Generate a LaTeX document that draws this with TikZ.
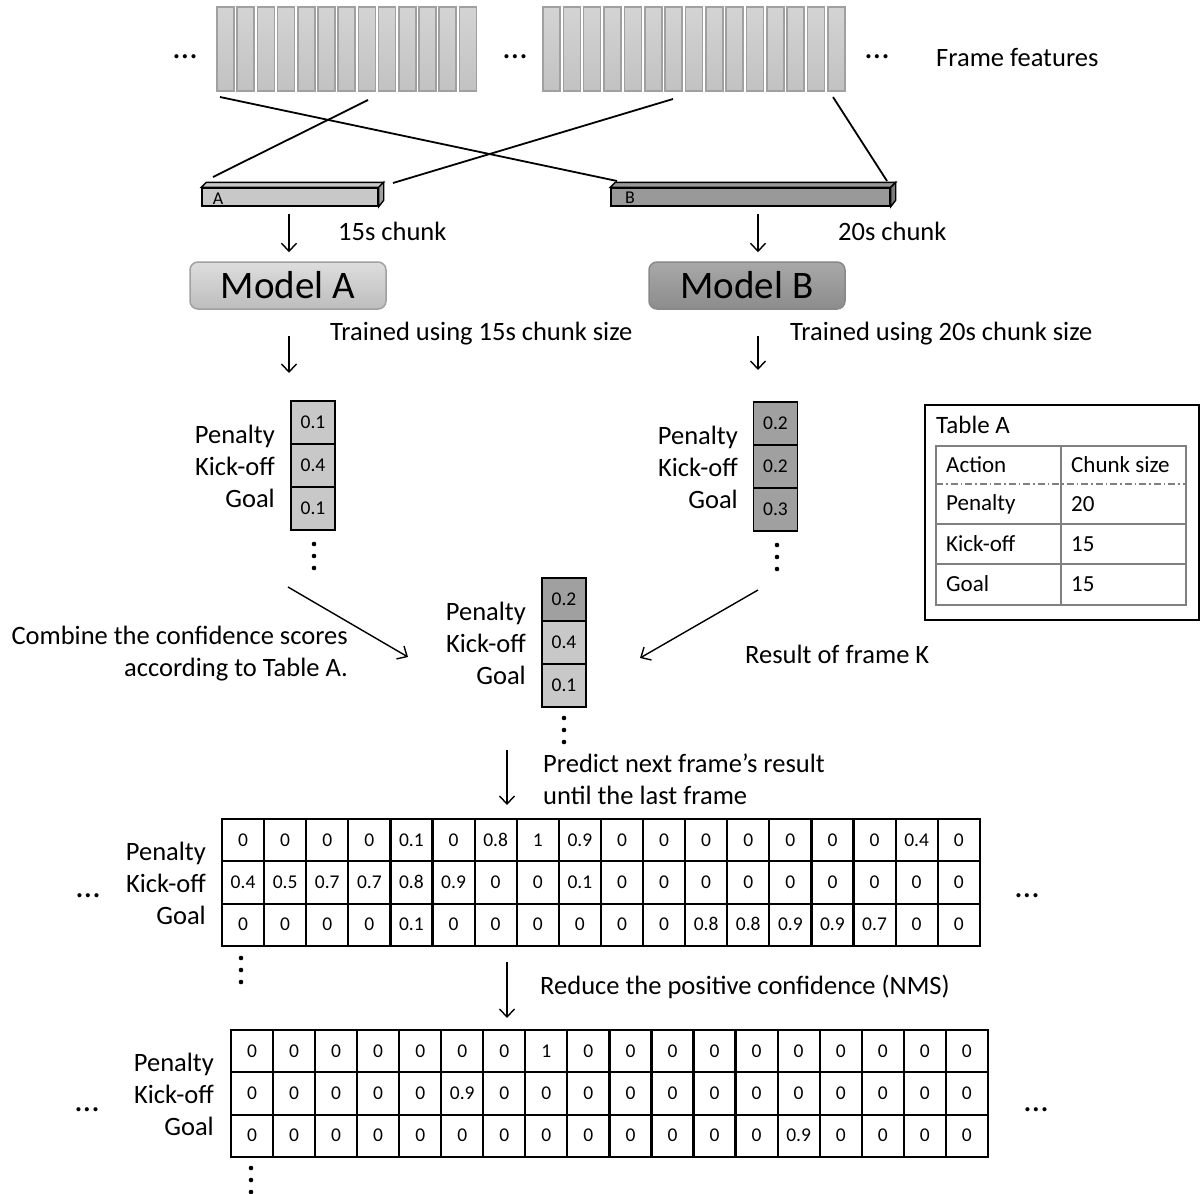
\documentclass[tikz,border=0pt]{standalone}
\usepackage{fontspec}
\setmainfont{Carlito}
\usetikzlibrary{arrows.meta,calc}
\definecolor{barfill}{HTML}{CCCCCC}
\definecolor{barline}{HTML}{A0A0A0}
\definecolor{lightg}{HTML}{C8C8C8}
\definecolor{darkg}{HTML}{A0A0A0}
\definecolor{chunkB}{HTML}{999999}
\definecolor{tblline}{HTML}{808080}
\begin{document}
\begin{tikzpicture}[x=1pt,y=-1pt,
 framebar/.style={rectangle,draw=barline,top color=white!83!black,bottom color=white!76!black,line width=1.5pt,minimum width=17pt,minimum height=84pt,inner sep=0pt},
 txt/.style={font=\fontsize{26.5}{32}\selectfont,inner sep=0pt},
 tbltxt/.style={font=\fontsize{23}{28}\selectfont,inner sep=0pt,anchor=west},
 hdots/.style={font=\fontsize{34}{34}\selectfont,inner sep=0pt,anchor=base},
 chunkbar/.style={rectangle,draw=black,line width=1.4pt,minimum height=18pt,inner sep=0pt},
 modelbox/.style={rectangle,rounded corners=8pt,draw=#1,line width=1.5pt,minimum width=196pt,minimum height=47pt,font=\fontsize{39}{39}\selectfont},
 scell/.style={rectangle,draw=black,line width=1.5pt,minimum width=44pt,minimum height=43pt,inner sep=0pt,font=\fontsize{19.5}{19.5}\selectfont,text height=12pt,text depth=0pt},
 gcell/.style={rectangle,draw=black,line width=2.2pt,minimum width=42.1pt,minimum height=42.3pt,inner sep=0pt,font=\fontsize{19.5}{19.5}\selectfont,fill=white,text height=12pt,text depth=0pt},
 arr/.style={-{Straight Barb[length=8pt,width=15pt]},line width=1.4pt},
 conn/.style={line width=1.8pt}
]
\useasboundingbox (0,0) rectangle (1203,1194);
\fill[white] (0,0) rectangle (1203,1194);

% frame features
\foreach \i in {0,...,12} \node[framebar] (fa\i) at ({225.5+\i*20.2},49) {};
\foreach \i in {0,...,14} \node[framebar] (fb\i) at ({551.5+\i*20.35},49) {};
\node[hdots] (dt1) at (185,58) {…};
\node[hdots] (dt2) at (515,58) {…};
\node[hdots] (dt3) at (877,58) {…};
\node[txt,anchor=west] (ff) at (936,58) {Frame features};

% chunk bars
\node[chunkbar,fill=lightg,minimum width=176pt] (chA) at (290,197) {};
\draw[line width=1.4pt,fill=lightg] (chA.north west) -- ++(5,-5) -- ($(chA.north east)+(5,-5)$) -- (chA.north east) -- cycle;
\draw[line width=1.4pt,fill=lightg!80!black] (chA.north east) -- ++(5,-5) -- ++(0,18) -- (chA.south east) -- cycle;
\node[inner sep=0pt,font=\fontsize{18}{18}\selectfont] (labA) at (218,199) {A};
\node[chunkbar,fill=chunkB,minimum width=279pt] (chB) at (750.5,197) {};
\draw[line width=1.4pt,fill=chunkB] (chB.north west) -- ++(5,-5) -- ($(chB.north east)+(5,-5)$) -- (chB.north east) -- cycle;
\draw[line width=1.4pt,fill=chunkB!80!black] (chB.north east) -- ++(5,-5) -- ++(0,18) -- (chB.south east) -- cycle;
\node[inner sep=0pt,font=\fontsize{18}{18}\selectfont] (labB) at (630,198) {B};

% crossing lines
\coordinate (l1s) at (220,97);
\coordinate (l1e) at (617,181);
\coordinate (l2s) at (213,177);
\coordinate (l2e) at (368,100);
\coordinate (l3s) at (393,183);
\coordinate (l3e) at (673,99);
\coordinate (l4s) at (833,97);
\coordinate (l4e) at (887,181);
\draw[conn] (l1s) -- (l1e);
\draw[conn] (l2s) -- (l2e);
\draw[conn] (l3s) -- (l3e);
\draw[conn] (l4s) -- (l4e);

% models
\node[modelbox=barline,top color=white!87!black,bottom color=white!74!black] (mA) at (288,285.5) {Model A};
\node[modelbox=darkg!85!black,top color=white!66!black,bottom color=white!55!black] (mB) at (747,285.5) {Model B};
\draw[arr] ([yshift=-7pt]chA.south -| 289,0) -- ([yshift=9pt]mA.north -| 289,0);
\draw[arr] ([yshift=-7pt]chB.south -| 758,0) -- ([yshift=9pt]mB.north -| 758,0);
\node[txt,anchor=west] (t15) at (338,231) {15s chunk};
\node[txt,anchor=west] (t20) at (838,231) {20s chunk};
\node[txt,anchor=west] (trA) at (330,334) {Trained using 15s chunk size};
\node[txt,anchor=west] (trB) at (790,334) {Trained using 20s chunk size};
\coordinate (aAe) at (289,373);
\coordinate (aBe) at (758,370);
\draw[arr] ([yshift=-26pt]mA.south -| 289,0) -- (aAe);
\draw[arr] ([yshift=-26pt]mB.south -| 758,0) -- (aBe);

% score columns
\foreach \v [count=\k] in {0.1,0.4,0.1}
  \node[scell,fill=lightg] (cA\k) at (313,{422.5+(\k-1)*43}) {\v};
\node[txt,anchor=east,align=right] (labsA) at (275,466) {Penalty\\Kick-off\\Goal};
\foreach \d in {-12,0,12} \fill (314,556+\d) circle (2.3);

\foreach \v [count=\k] in {0.2,0.2,0.3}
  \node[scell,fill=darkg] (cB\k) at (775.5,{423.5+(\k-1)*43}) {\v};
\node[txt,anchor=east,align=right] (labsB) at (738,467) {Penalty\\Kick-off\\Goal};
\foreach \d in {-12,0,12} \fill (777,557+\d) circle (2.3);

\node[scell,fill=darkg] (cC1) at (564,599.5) {0.2};
\node[scell,fill=lightg] (cC2) at (564,642.5) {0.4};
\node[scell,fill=lightg] (cC3) at (564,685.5) {0.1};
\node[txt,anchor=east,align=right] (labsC) at (526,643) {Penalty\\Kick-off\\Goal};
\foreach \d in {-12,0,12} \fill (564,730+\d) circle (2.3);

% combine arrows
\coordinate (cbAs) at (288,587);
\coordinate (cbAe) at (408,657);
\coordinate (cbBs) at (758,590);
\coordinate (cbBe) at (640,658);
\draw[arr] (cbAs) -- (cbAe);
\draw[arr] (cbBs) -- (cbBe);
\node[txt,anchor=east,align=right] (comb) at (348,654) {Combine the confidence scores\\according to Table A.};
\node[txt,anchor=west] (resk) at (745,654) {Result of frame K};

% Table A
\node[rectangle,draw=black,line width=1.5pt,minimum width=274pt,minimum height=215pt,inner sep=0pt] (tblA) at (1062,512.5) {};
\node[inner sep=0pt,anchor=west,font=\fontsize{25}{30}\selectfont] (tblT) at (936,425) {Table A};
\draw[tblline,line width=1.3pt] (936,446) rectangle (1186,605);
\draw[tblline,line width=1.3pt] (1061,446) -- (1061,605);
\draw[tblline,line width=1.2pt,dash pattern=on 7pt off 3pt on 1.5pt off 3pt] (936,484) -- (1186,484);
\draw[tblline,line width=1.3pt] (936,524) -- (1186,524);
\draw[tblline,line width=1.3pt] (936,564) -- (1186,564);
\node[tbltxt] (ta1) at (946,465) {Action};
\node[tbltxt] (ta2) at (1071,465) {Chunk size};
\node[tbltxt] (tb1) at (946,504) {Penalty};
\node[tbltxt] (tb2) at (1071,504) {20};
\node[tbltxt] (tc1) at (946,544) {Kick-off};
\node[tbltxt] (tc2) at (1071,544) {15};
\node[tbltxt] (td1) at (946,584) {Goal};
\node[tbltxt] (td2) at (1071,584) {15};

% predict
\coordinate (pS) at (507,750);
\coordinate (pE) at (507,805);
\draw[arr] (pS) -- (pE);
\node[txt,anchor=west,align=left] (pred) at (543,779) {Predict next frame’s result\\until the last frame};

% grid 1
\foreach \row [count=\r] in {{0,0,0,0,0.1,0,0.8,1,0.9,0,0,0,0,0,0,0,0.4,0},{0.4,0.5,0.7,0.7,0.8,0.9,0,0,0.1,0,0,0,0,0,0,0,0,0},{0,0,0,0,0.1,0,0,0,0,0,0,0.8,0.8,0.9,0.9,0.7,0,0}}
  \foreach \v [count=\c] in \row
    \node[gcell] (g1-\r-\c) at ({222+42.1*(\c-0.5)},{819+42.3*(\r-0.5)}) {\v};
\node[txt,anchor=east,align=right] (labs1) at (206,883) {Penalty\\Kick-off\\Goal};
\node[hdots] (dt4) at (88,897) {…};
\node[hdots] (dt5) at (1027,897) {…};
\foreach \d in {-12,0,12} \fill (241,970+\d) circle (2.3);

% NMS
\coordinate (nS) at (507,962);
\coordinate (nE) at (507,1018);
\draw[arr] (nS) -- (nE);
\node[txt,anchor=west] (nms) at (540,987) {Reduce the positive confidence (NMS)};

% grid 2
\foreach \row [count=\r] in {{0,0,0,0,0,0,0,1,0,0,0,0,0,0,0,0,0,0},{0,0,0,0,0,0.9,0,0,0,0,0,0,0,0,0,0,0,0},{0,0,0,0,0,0,0,0,0,0,0,0,0,0.9,0,0,0,0}}
  \foreach \v [count=\c] in \row
    \node[gcell] (g2-\r-\c) at ({231+42.05*(\c-0.5)},{1030+42.3*(\r-0.5)}) {\v};
\node[txt,anchor=east,align=right] (labs2) at (214,1094) {Penalty\\Kick-off\\Goal};
\node[hdots] (dt6) at (87,1111) {…};
\node[hdots] (dt7) at (1036,1111) {…};
\foreach \d in {-12,0,12} \fill (251,1180+\d) circle (2.3);
\end{tikzpicture}
\end{document}
